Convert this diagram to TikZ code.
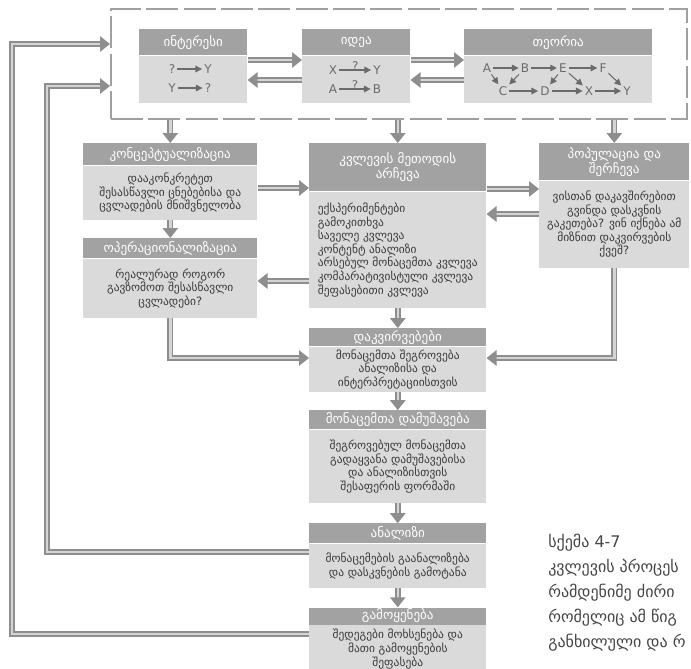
\documentclass[tikz,border=0pt]{standalone}
\usepackage{fontspec}
\setmainfont{DejaVu Sans}
\usetikzlibrary{arrows.meta, positioning, calc}
\definecolor{headgray}{HTML}{A2A2A2}
\definecolor{bodygray}{HTML}{DADADA}
\definecolor{flowgray}{HTML}{8E8E8E}
\definecolor{flowlight}{HTML}{D4D4D4}
\definecolor{textgray}{HTML}{3A3A3A}
\definecolor{framegray}{HTML}{A0A0A0}
\definecolor{capgray}{HTML}{454545}

\begin{document}
\begin{tikzpicture}[x=0.75pt, y=-0.75pt,
    node distance=15pt,
    every node/.style={font=\fontsize{8.6}{10.2}\selectfont},
    head/.style={rectangle, fill=headgray, text=white, align=center,
                 anchor=north west, inner sep=1pt, font=\fontsize{9.8}{11.5}\selectfont},
    body/.style={rectangle, fill=bodygray, text=textgray, align=center,
                 inner sep=1pt},
    frame/.style={rectangle, draw=framegray, line width=1.5pt,
                  dash pattern=on 24pt off 4pt, anchor=north west, inner sep=0pt},
    flow/.style={draw=flowgray, double=flowlight, double distance=1.9pt,
                 line width=1.4pt, -{Triangle[length=7.5pt,width=11.5pt]}},
    tiny/.style={draw=textgray!75, line width=0.8pt, shorten >=0.5pt, shorten <=0.5pt,
                 -{Triangle[length=5pt,width=5pt]}},
    sym/.style={text=textgray!75, inner sep=1pt, font=\fontsize{9}{10}\selectfont},
    caption/.style={text=capgray, align=left, anchor=north west, inner sep=0pt,
                    font=\fontsize{12}{18.75}\selectfont}
]
\useasboundingbox (0,0) rectangle (691,668);

% Top row
\node[frame, minimum width=432pt, minimum height=82.5pt] (frame) at (110,8) {};
\node[head, minimum width=81pt, minimum height=19.5pt] (intH) at (139,29) {ინტერესი};
\node[body, minimum width=81pt, minimum height=35.25pt, below=0pt of intH] (int) {};
\node[head, minimum width=81pt, minimum height=19.5pt] (ideaH) at (302,29) {იდეა};
\node[body, minimum width=81pt, minimum height=35.25pt, below=0pt of ideaH] (idea) {};
\node[head, minimum width=141pt, minimum height=19.5pt] (theoryH) at (464,29) {თეორია};
\node[body, minimum width=141pt, minimum height=35.25pt, below=0pt of theoryH] (theory) {};

% Symbols
\node[sym] (q1) at (172,69) {?};
\node[sym] (y1) at (208,69) {Y};
\node[sym] (y2) at (172,88) {Y};
\node[sym] (q2) at (208,88) {?};
\draw[tiny] (q1) -- (y1);
\draw[tiny] (y2) -- (q2);
\node[sym] (ix) at (333,70) {X};
\node[sym] (iy) at (377,70) {Y};
\node[sym] (ia) at (333,89) {A};
\node[sym] (ib) at (377,89) {B};
\draw[tiny] (ix) -- node[sym, above=-1.5pt] {?} (iy);
\draw[tiny] (ia) -- node[sym, above=-1.5pt] {?} (ib);
\node[sym] (tA) at (487,68) {A};
\node[sym] (tB) at (525,68) {B};
\node[sym] (tE) at (563,68) {E};
\node[sym] (tF) at (603,68) {F};
\node[sym] (tC) at (503,91) {C};
\node[sym] (tD) at (545,91) {D};
\node[sym] (tX) at (589,91) {X};
\node[sym] (tY) at (627,91) {Y};
\draw[tiny] (tA) -- (tB);
\draw[tiny] (tB) -- (tE);
\draw[tiny] (tE) -- (tF);
\draw[tiny] (tC) -- (tD);
\draw[tiny] (tD) -- (tX);
\draw[tiny] (tX) -- (tY);
\draw[tiny] (tA) -- (tC);
\draw[tiny] (tB) -- (tC);
\draw[tiny] (tE) -- (tD);
\draw[tiny] (tE) -- (tX);
\draw[tiny] (tF) -- (tY);

% Second row
\node[head, minimum width=130.5pt, minimum height=16.5pt] (conceptH) at (83,143) {კონცეპტუალიზაცია};
\node[body, minimum width=130.5pt, minimum height=40.5pt, below=0pt of conceptH] (concept)
  {დააკონკრეტეთ\\შესასწავლი ცნებებისა და\\ცვლადების მნიშვნელობა};
\node[head, minimum width=130.5pt, minimum height=15pt] (operH) at (83,238) {ოპერაციონალიზაცია};
\node[body, minimum width=130.5pt, minimum height=44.25pt, below=0pt of operH] (oper)
  {რეალურად როგორ\\გავზომოთ შესასწავლი\\ცვლადები?};
\node[head, minimum width=132.75pt, minimum height=36pt] (methodH) at (309,143)
  {კვლევის მეთოდის\\არჩევა};
\node[body, minimum width=132.75pt, minimum height=87pt, align=left, below=0pt of methodH] (method)
  {ექსპერიმენტები\\გამოკითხვა\\საველე კვლევა\\კონტენტ ანალიზი\\არსებულ მონაცემთა კვლევა\\კომპარატივისტული კვლევა\\შეფასებითი კვლევა};
\node[head, minimum width=112.5pt, minimum height=27.75pt] (popH) at (539,143)
  {პოპულაცია და\\შერჩევა};
\node[body, minimum width=112.5pt, minimum height=65.25pt, below=0pt of popH] (pop)
  {ვისთან დაკავშირებით\\გვინდა დასკვნის\\გაკეთება? ვინ იქნება ამ\\მიზნით დაკვირვების\\ქვეშ?};

% Main column
\node[head, minimum width=132.75pt, minimum height=13.5pt, below=of method] (obsH) {დაკვირვებები};
\node[body, minimum width=132.75pt, minimum height=33.75pt, below=0pt of obsH] (obs)
  {მონაცემთა შეგროვება\\ანალიზისა და\\ინტერპრეტაციისთვის};
\node[head, minimum width=132.75pt, minimum height=14.25pt, below=13.5pt of obs] (procH) {მონაცემთა დამუშავება};
\node[body, minimum width=132.75pt, minimum height=54.75pt, below=0pt of procH] (proc)
  {შეგროვებულ მონაცემთა\\გადაყვანა დამუშავებისა\\და ანალიზისთვის\\შესაფერის ფორმაში};
\node[head, minimum width=132.75pt, minimum height=15pt, below=of proc] (analH) {ანალიზი};
\node[body, minimum width=132.75pt, minimum height=33pt, below=0pt of analH] (anal)
  {მონაცემების გაანალიზება\\და დასკვნების გამოტანა};
\node[head, minimum width=132.75pt, minimum height=12.75pt, below=14.25pt of anal] (appH) {გამოყენება};
\node[body, minimum width=132.75pt, minimum height=36pt, below=0pt of appH] (app)
  {შედეგები მოხსენება და\\მათი გამოყენების\\შეფასება};

% Arrows
\draw[flow] (int.east |- 0,60) -- (idea.west |- 0,60);
\draw[flow] (idea.west |- 0,80) -- (int.east |- 0,80);
\draw[flow] (idea.east |- 0,60) -- (theory.west |- 0,60);
\draw[flow] (theory.west |- 0,80) -- (idea.east |- 0,80);
\draw[flow] (frame.south -| conceptH.north) -- (conceptH.north);
\draw[flow] (frame.south -| methodH.north) -- (methodH.north);
\draw[flow] (frame.south -| popH.north) -- (popH.north);
\draw[flow] (concept.east |- 0,188) -- (method.west |- 0,188);
\draw[flow] (method.east |- 0,189) -- (pop.west |- 0,189);
\draw[flow] (pop.west |- 0,214) -- (method.east |- 0,214);
\draw[flow] (concept.south) -- (operH.north);
\draw[flow] (method.west |- 0,281) -- (oper.east |- 0,281);
\draw[flow] (oper.south) |- (obs.west |- 0,358);
\draw[flow] (pop.south) |- (obs.east |- 0,358);
\draw[flow] (method.south) -- (obsH.north);
\draw[flow] (obs.south) -- (procH.north);
\draw[flow] (proc.south) -- (analH.north);
\draw[flow] (anal.south) -- (appH.north);

% Feedback loops
\coordinate (innerloop) at (47,86);
\coordinate (outerloop) at (12,44);
\draw[flow] (anal.west |- 0,552) -| (innerloop) -- (frame.west |- innerloop);
\draw[flow] (app.west |- 0,634) -| (outerloop) -- (frame.west |- outerloop);

% Caption
\node[caption] (cap) at (548,534)
  {სქემა 4-7\\კვლევის პროცეს\\რამდენიმე ძირი\\რომელიც ამ წიგ\\განხილული და რ};

\end{tikzpicture}
\end{document}
